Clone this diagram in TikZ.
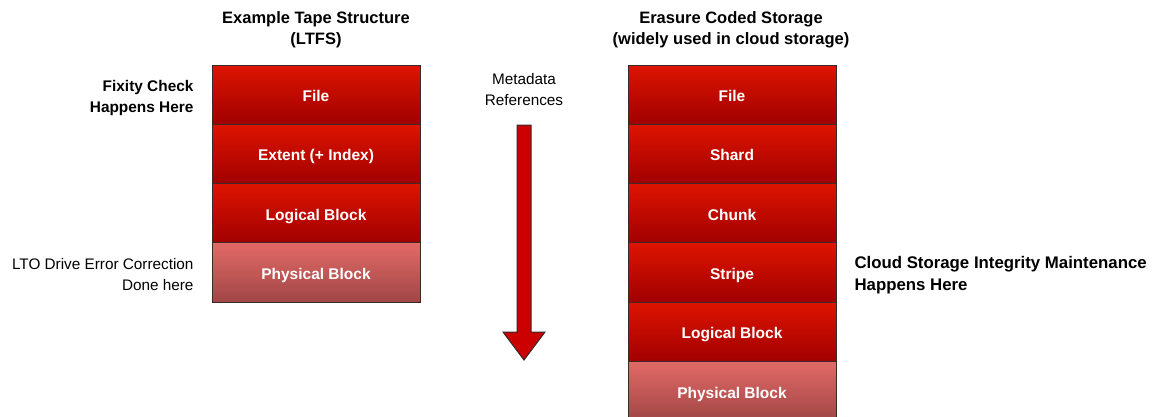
\documentclass[tikz,border=0pt]{standalone}
\usepackage{fontspec}
\setmainfont{Liberation Sans}
\usepackage{xcolor}
\usetikzlibrary{positioning}

\definecolor{redtop}{HTML}{DE1400}
\definecolor{redbot}{HTML}{A00000}
\definecolor{pinktop}{HTML}{E26A66}
\definecolor{pinkbot}{HTML}{A04646}
\definecolor{edge}{HTML}{3A2A2A}
\definecolor{arrowred}{HTML}{CC0000}

\tikzset{
    layer/.style={draw=edge, line width=1pt, minimum width=208pt, minimum height=59.3pt,
        inner sep=0pt, outer sep=0pt, text height=14pt, text depth=0pt,
        top color=redtop, bottom color=redbot, text=white,
        font=\fontsize{15.5}{18}\selectfont\bfseries},
    physlayer/.style={layer, top color=pinktop, bottom color=pinkbot},
    heading/.style={align=center, font=\fontsize{16.5}{21}\selectfont\bfseries},
    note/.style={font=\fontsize{15.3}{21}\selectfont},
}

\begin{document}
\begin{tikzpicture}[x=1pt, y=-1pt]
    \useasboundingbox (0,0) rectangle (1157,416);
    \clip (0,0) rectangle (1157,416);

    % 1. Tape stack (LTFS)
    \node[heading] (ttitle) at (316,30) {Example Tape Structure\\(LTFS)};
    \node[layer, anchor=north west] (tfile) at (212,65) {File};
    \node[layer, below=0pt of tfile] (textent) {Extent (+ Index)};
    \node[layer, below=0pt of textent] (tlogical) {Logical Block};
    \node[physlayer, below=0pt of tlogical] (tphys) {Physical Block};

    \node[note, font=\fontsize{15.4}{21}\selectfont\bfseries, align=right, anchor=east]
        (fixity) at (197,98) {Fixity Check\\Happens Here};
    \node[note, align=right, anchor=east] (lto) at (197,275) {LTO Drive Error Correction\\Done here};

    % 2. Metadata arrow
    \node[note, align=center] (meta) at (524,90) {Metadata\\References};
    \filldraw[fill=arrowred, draw=edge, line width=1pt, line join=miter]
        (517,125) -- (531,125) -- (531,332) -- (545,332) -- (524,360)
        -- (503,332) -- (517,332) -- cycle;

    % 3. Erasure coded stack
    \node[heading] (etitle) at (731,30) {Erasure Coded Storage\\(widely used in cloud storage)};
    \node[layer, anchor=north west] (efile) at (628,65) {File};
    \node[layer, below=0pt of efile] (eshard) {Shard};
    \node[layer, below=0pt of eshard] (echunk) {Chunk};
    \node[layer, below=0pt of echunk] (estripe) {Stripe};
    \node[layer, below=0pt of estripe] (elogical) {Logical Block};
    \node[physlayer, below=0pt of elogical] (ephys) {Physical Block};

    \node[note, font=\fontsize{16.8}{22}\selectfont\bfseries, align=left, anchor=west]
        (cloud) at (851,275) {Cloud Storage Integrity Maintenance\\Happens Here};
\end{tikzpicture}
\end{document}
